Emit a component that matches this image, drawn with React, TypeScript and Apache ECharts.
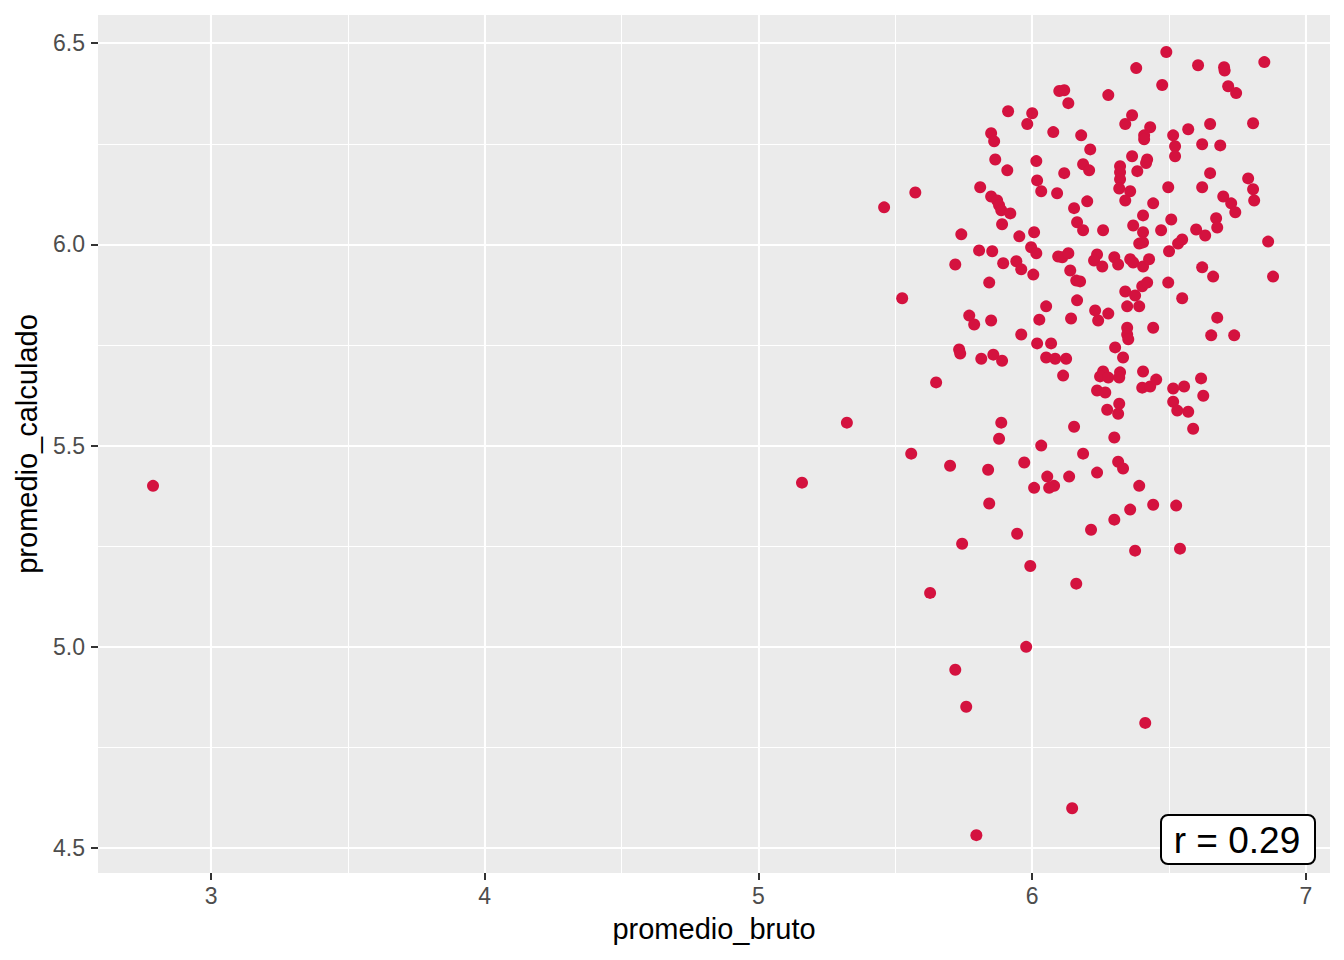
import React, { useEffect, useRef } from "react";
import * as echarts from "echarts";

const promedioBruto = [
  6.490, 6.848, 6.606, 6.380, 6.701, 6.703, 6.475, 6.716, 6.745, 6.278,
  6.132, 6.099, 6.117, 6.365, 6.340, 6.431, 6.409, 6.409, 6.515, 6.570,
  6.650, 6.807, 6.179, 6.212, 6.522, 6.522, 6.621, 6.687, 6.365, 6.420,
  6.416, 6.186, 6.208, 6.321, 6.321, 6.321, 6.318, 6.384, 6.650, 6.789,
  6.807, 6.811, 6.497, 6.621, 6.358, 6.340, 6.698, 6.727, 6.742, 6.201,
  6.153, 6.442, 6.405, 6.508, 6.672, 6.676, 6.164, 6.186, 6.259, 6.369,
  6.405, 6.471, 6.599, 6.632, 6.548, 6.862, 5.912, 6.000, 5.982, 6.077,
  5.850, 5.861, 5.865, 5.909, 6.015, 6.117, 6.018, 6.033, 6.091, 5.810,
  5.573, 5.459, 5.850, 5.872, 5.879, 5.887, 5.920, 5.890, 5.741, 5.953,
  6.007, 5.806, 5.854, 5.719, 5.894, 5.942, 5.960, 5.996, 6.015, 6.004,
  6.095, 6.110, 6.132, 6.139, 6.161, 5.843, 5.525, 5.770, 5.788, 5.850,
  6.051, 6.164, 6.026, 6.142, 5.960, 6.018, 6.069, 5.733, 5.737, 5.814,
  5.858, 5.890, 6.051, 6.084, 6.124, 6.113, 5.649, 5.887, 6.153, 6.391,
  6.500, 6.237, 6.226, 6.256, 6.300, 6.314, 6.358, 6.369, 6.405, 6.427,
  6.175, 6.621, 6.661, 6.880, 6.497, 6.402, 6.420, 6.340, 6.376, 6.548,
  6.347, 6.391, 6.230, 6.241, 6.278, 6.676, 6.442, 6.347, 6.347, 6.351,
  6.654, 6.738, 6.303, 6.332, 6.259, 6.248, 6.278, 6.321, 6.318, 6.237,
  6.267, 6.405, 6.402, 6.431, 6.453, 6.515, 6.555, 6.617, 6.625, 6.515,
  6.530, 6.570, 6.274, 6.314, 6.318, 6.588, 5.879, 5.558, 5.700, 5.839,
  5.971, 6.033, 6.186, 6.055, 6.080, 6.062, 6.007, 6.135, 5.843, 5.945,
  5.744, 5.993, 6.161, 5.627, 6.300, 6.314, 6.332, 6.237, 6.391, 6.442,
  6.526, 6.358, 6.300, 6.215, 6.376, 6.540, 5.978, 5.719, 5.759, 6.413,
  6.146, 5.796, 2.788, 5.159, 5.323, 6.533, 6.405,
];

const promedioCalculado = [
  6.478, 6.453, 6.445, 6.438, 6.440, 6.432, 6.396, 6.393, 6.376, 6.371,
  6.351, 6.381, 6.383, 6.321, 6.299, 6.291, 6.271, 6.261, 6.271, 6.286,
  6.299, 6.301, 6.271, 6.236, 6.244, 6.219, 6.249, 6.246, 6.219, 6.211,
  6.202, 6.199, 6.184, 6.194, 6.179, 6.162, 6.139, 6.182, 6.177, 6.164,
  6.137, 6.109, 6.142, 6.142, 6.132, 6.109, 6.119, 6.102, 6.080, 6.107,
  6.090, 6.102, 6.072, 6.062, 6.065, 6.042, 6.055, 6.035, 6.035, 6.047,
  6.030, 6.035, 6.037, 6.022, 6.012, 6.007, 6.331, 6.326, 6.299, 6.279,
  6.276, 6.256, 6.211, 6.184, 6.207, 6.177, 6.159, 6.132, 6.127, 6.142,
  6.129, 6.092, 6.119, 6.109, 6.097, 6.085, 6.077, 6.050, 6.025, 6.020,
  6.030, 5.985, 5.983, 5.950, 5.953, 5.958, 5.938, 5.993, 5.978, 5.925,
  5.970, 5.968, 5.978, 5.935, 5.910, 5.905, 5.866, 5.823, 5.801, 5.811,
  5.846, 5.861, 5.813, 5.816, 5.776, 5.754, 5.754, 5.739, 5.729, 5.716,
  5.726, 5.711, 5.719, 5.716, 5.716, 5.674, 5.657, 5.557, 5.547, 6.002,
  5.983, 5.975, 5.960, 5.945, 5.968, 5.950, 5.963, 5.955, 5.945, 5.963,
  5.908, 5.943, 5.920, 5.920, 5.905, 5.896, 5.905, 5.883, 5.873, 5.866,
  5.846, 5.846, 5.836, 5.811, 5.828, 5.818, 5.793, 5.793, 5.776, 5.764,
  5.774, 5.774, 5.744, 5.719, 5.684, 5.672, 5.669, 5.682, 5.669, 5.637,
  5.632, 5.684, 5.644, 5.647, 5.664, 5.642, 5.647, 5.667, 5.624, 5.609,
  5.587, 5.584, 5.589, 5.579, 5.604, 5.542, 5.517, 5.480, 5.450, 5.440,
  5.458, 5.500, 5.480, 5.423, 5.400, 5.395, 5.395, 5.423, 5.356, 5.281,
  5.256, 5.201, 5.157, 5.134, 5.520, 5.460, 5.443, 5.433, 5.400, 5.353,
  5.351, 5.341, 5.316, 5.291, 5.239, 5.244, 5.000, 4.943, 4.851, 4.811,
  4.599, 4.532, 5.400, 5.408, 5.557, 6.002, 6.005,
];

const xMajorTicks = [3, 4, 5, 6, 7];
const xMinorTicks = [3.5, 4.5, 5.5, 6.5];
const yMajorTicks = [4.5, 5.0, 5.5, 6.0, 6.5];
const yMinorTicks = [4.75, 5.25, 5.75, 6.25];
const xRange = [2.587, 7.088];
const yRange = [4.438, 6.57];
const xTitle = "promedio_bruto";
const yTitle = "promedio_calculado";
const corrLabel = "r = 0.29";

const FONT = "'Liberation Sans', Arial, Helvetica, sans-serif";

export default function App() {
  const ref = useRef<HTMLDivElement>(null);

  useEffect(() => {
    if (!ref.current) return;
    const chart = echarts.init(ref.current, null, { renderer: "svg" });
    const points = promedioBruto.map((x, i) => [x, promedioCalculado[i]]);

    const majorSplit = { show: true, lineStyle: { color: "#FFFFFF", width: 2.1 } };
    const minorSplit = { show: true, lineStyle: { color: "#FFFFFF", width: 1 } };

    chart.setOption({
      animation: false,
      backgroundColor: "#FFFFFF",
      textStyle: { fontFamily: FONT },
      grid: {
        left: 98,
        right: 14,
        top: 15,
        bottom: 87,
        show: true,
        backgroundColor: "#EBEBEB",
        borderWidth: 0,
        containLabel: false,
        outerBoundsMode: "none",
      },
      xAxis: [
        {
          type: "value",
          position: "bottom",
          min: xRange[0],
          max: xRange[1],
          z: 1,
          axisLine: { show: false },
          axisTick: { show: false, customValues: xMinorTicks },
          axisLabel: { show: false, customValues: xMinorTicks },
          splitLine: minorSplit,
        },
        {
          type: "value",
          position: "bottom",
          min: xRange[0],
          max: xRange[1],
          z: 2,
          name: xTitle,
          nameLocation: "middle",
          nameGap: 41,
          nameTextStyle: { fontSize: 29, color: "#000000", fontFamily: FONT },
          axisLine: { show: false },
          axisTick: {
            show: true,
            customValues: xMajorTicks,
            length: 7,
            lineStyle: { color: "#333333", width: 2 },
          },
          axisLabel: {
            show: true,
            customValues: xMajorTicks,
            margin: 11,
            fontSize: 23,
            color: "#4D4D4D",
            fontFamily: FONT,
            formatter: (v: number) => String(v),
          },
          splitLine: majorSplit,
        },
      ],
      yAxis: [
        {
          type: "value",
          position: "left",
          min: yRange[0],
          max: yRange[1],
          z: 1,
          axisLine: { show: false },
          axisTick: { show: false, customValues: yMinorTicks },
          axisLabel: { show: false, customValues: yMinorTicks },
          splitLine: minorSplit,
        },
        {
          type: "value",
          position: "left",
          min: yRange[0],
          max: yRange[1],
          z: 2,
          name: yTitle,
          nameLocation: "middle",
          nameGap: 57,
          nameRotate: 90,
          nameTextStyle: { fontSize: 29, color: "#000000", fontFamily: FONT },
          axisLine: { show: false },
          axisTick: {
            show: true,
            customValues: yMajorTicks,
            length: 7,
            lineStyle: { color: "#333333", width: 2 },
          },
          axisLabel: {
            show: true,
            customValues: yMajorTicks,
            margin: 13,
            fontSize: 23,
            color: "#4D4D4D",
            fontFamily: FONT,
            formatter: (v: number) => v.toFixed(1),
          },
          splitLine: majorSplit,
        },
      ],
      series: [
        {
          type: "scatter",
          xAxisIndex: 1,
          yAxisIndex: 1,
          data: points,
          symbol: "circle",
          symbolSize: 12,
          z: 5,
          itemStyle: { color: "#D4123F", opacity: 1 },
        },
      ],
      graphic: [
        {
          type: "rect",
          left: 1160,
          top: 814,
          z: 100,
          shape: { x: 0, y: 0, width: 154, height: 49, r: 7 },
          style: { fill: "#FFFFFF", stroke: "#000000", lineWidth: 2 },
        },
        {
          type: "text",
          x: 1237,
          y: 840,
          z: 101,
          style: {
            text: corrLabel,
            fontSize: 37,
            fontFamily: FONT,
            fill: "#000000",
            align: "center",
            verticalAlign: "middle",
          },
        },
      ],
    });

    return () => chart.dispose();
  }, []);

  return (
    <div
      ref={ref}
      style={{ position: "fixed", left: 0, top: 0, width: 1344, height: 960 }}
    />
  );
}
